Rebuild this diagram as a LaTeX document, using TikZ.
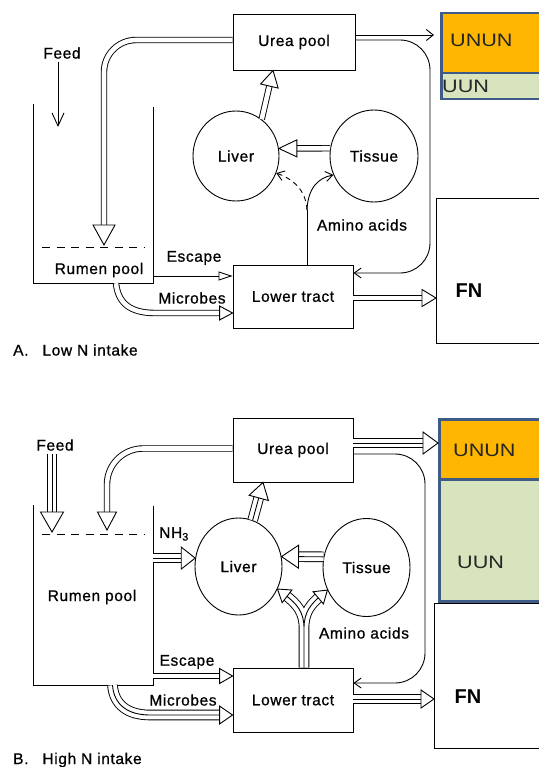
\documentclass[tikz,border=0pt]{standalone}
\usepackage{fontspec}
\setmainfont{Liberation Sans}[LetterSpace=4,FakeBold=0.8]
\newfontfamily\unfont{Liberation Sans}[FakeStretch=1.2]
\newfontfamily\fnfont{Liberation Sans}
\usetikzlibrary{arrows.meta,calc,shapes.geometric}
\definecolor{unor}{HTML}{FFB600}
\definecolor{ungr}{HTML}{D7E4BD}
\definecolor{unbd}{HTML}{3E5A85}
% open triangular head: #1 prev point, #2 tip, #3 length, #4 half width
\newcommand\ahd[4]{\draw[fill=white,line width=0.9pt,line join=miter] (#2) -- ($(#2)!#3!(#1)!#4!90:(#2)$) -- ($(#2)!#3!(#1)!#4!-90:(#2)$) -- cycle;}
% triple line
\newcommand\trip[2][]{\draw[trp,#1]#2;\draw[ln,#1]#2;}
\begin{document}
\begin{tikzpicture}[x=1pt,y=-1pt,
  lbl/.style={inner sep=1pt, font=\fontsize{15.5}{18}\selectfont},
  box/.style={draw, line width=0.9pt, inner sep=0pt, font=\fontsize{15.5}{18}\selectfont},
  org/.style={draw, ellipse, line width=0.9pt, inner sep=0pt, font=\fontsize{15.5}{18}\selectfont},
  ln/.style={line width=0.9pt},
  dbl/.style={double, double distance=4.6pt, line width=0.9pt},
  trp/.style={double, double distance=8.8pt, line width=0.9pt},
  barb/.style={-{Straight Barb[length=7pt,width=10pt]}},
  unbox/.style={draw=unbd, line width=2.5pt, minimum width=110pt, anchor=north west, inner sep=0pt},
  fnbox/.style={draw, line width=1.2pt, fill=white, minimum width=112pt, minimum height=145pt, anchor=north west, inner sep=0pt},
  untxt/.style={anchor=west, inner sep=0pt, font=\unfont\fontsize{18}{20}\selectfont, text=black!85},
  fntxt/.style={inner sep=0pt, font=\fnfont\bfseries\fontsize{20}{22}\selectfont},
]
\useasboundingbox (0,0) rectangle (538,767);

%%%%%%%%%%%%%%%% Panel A %%%%%%%%%%%%%%%%
\node[unbox, fill=unor, minimum height=60pt] (unA) at (440,12) {};
\node[unbox, fill=ungr, minimum height=26pt] (uunA) at (440,72) {};
\node[untxt] at (450,40) {UNUN};
\node[untxt] at (442,86) {UUN};
\node[fnbox] (fnA) at (436,198) {};
\node[fntxt] at (469,291) {FN};

\node[minimum width=119pt, minimum height=179pt, inner sep=0pt] (rumenA) at (93.5,193.5) {};
\draw[ln] (rumenA.north west) -- (rumenA.south west) -- (rumenA.south east) -- ([yshift=-3pt]rumenA.north east);
\draw[ln, dash pattern=on 8pt off 6.5pt] (42,247) -- (145,247);
\node[lbl] (rpA) at (99,270) {Rumen pool};
\node[lbl] (feedA) at (62,53) {Feed};
\coordinate (fdA) at (58,127);
\draw[ln, -{Straight Barb[length=13pt,width=12pt]}] ($(feedA.south)+(-4,2)$) -- (fdA);

\node[box, minimum width=122pt, minimum height=56pt] (ureaA) at (294,42) {Urea pool};
\node[org, minimum width=86pt, minimum height=90pt] (livA) at (236,156) {Liver};
\node[org, minimum width=88pt, minimum height=92pt] (tisA) at (374,156) {Tissue};
\node[box, minimum width=120pt, minimum height=63pt] (lowA) at (293,296.5) {Lower tract};

% urea -> rumen
\coordinate (inA) at (104,245);
\draw[dbl, rounded corners=32pt, shorten >=17pt] ($(ureaA.west)+(0,-2)$) -- (104,40) -- (inA);
\ahd{104,200}{inA}{20pt}{11pt}
% urea -> UNUN
\draw[ln, -{Straight Barb[length=7pt,width=11pt]}] ($(ureaA.east)+(0,-7)$) -- ($(ureaA.east -| unA.west)+(-6,-7)$);
% loop urea -> lower tract
\draw[ln, rounded corners=30pt, barb] ($(ureaA.east)+(0,-2)$) -- (430,40) -- (430,273) -- ($(lowA.east)+(0,-23.5)$);
% liver -> urea
\coordinate (tA1) at ($(ureaA.south)+(-21,0)$);
\draw[dbl, shorten >=13pt] (livA.55) -- (tA1);
\ahd{livA.55}{tA1}{16pt}{9pt}
% tissue -> liver
\draw[dbl, shorten >=15pt] (tisA.170) -- (livA.10);
\ahd{tisA.170}{livA.10}{18pt}{8.5pt}
% amino acids
\coordinate (aaA0) at ($(lowA.north)+(14,0)$);
\coordinate (aaAj) at (307,210);
\draw[ln] (aaA0) -- (aaAj);
\draw[ln, dash pattern=on 5pt off 4pt, barb] (aaAj) .. controls (306,190) and (293,179) .. (livA.-23);
\draw[ln, barb] (aaAj) .. controls (308,188) and (318,178) .. (tisA.205);
\node[lbl] at (362,225) {Amino acids};
% escape
\coordinate (eA1) at ($(lowA.west)+(0,-20.5)$);
\draw[ln, -{Triangle[open,length=14pt,width=9pt]}] (eA1 -| rumenA.east) -- (eA1);
\node[lbl] at (194,258) {Escape};
% microbes
\coordinate (mA0) at ($(rumenA.south)+(22.5,0)$);
\coordinate (mA1) at ($(lowA.west)+(0,16.5)$);
\draw[dbl, shorten >=10pt] (mA0) .. controls (118,303) and (130,313) .. (155,313) -- (mA1);
\ahd{155,313}{mA1}{13pt}{7pt}
\node[lbl] at (192,298) {Microbes};
% lower tract -> FN
\coordinate (fnA1) at ($(lowA.east)+(0,1.5)$);
\coordinate (fnA2) at (fnA1 -| fnA.west);
\draw[dbl, shorten >=11pt] (fnA1) -- (fnA2);
\ahd{fnA1}{fnA2}{14pt}{8.5pt}
\node[lbl, anchor=west] at (12,350) {A.\hspace{14pt}Low N intake};

%%%%%%%%%%%%%%%% Panel B %%%%%%%%%%%%%%%%
\node[unbox, fill=unor, minimum height=60pt] (unB) at (438,418) {};
\node[unbox, fill=ungr, minimum height=122pt] (uunB) at (438,478) {};
\node[untxt] at (453,450) {UNUN};
\node[untxt] at (457,562) {UUN};
\node[fnbox] (fnB) at (434,603) {};
\node[fntxt] at (468,697) {FN};

\node[minimum width=119pt, minimum height=180pt, inner sep=0pt] (rumenB) at (93.5,595) {};
\draw[ln] (rumenB.north west) -- (rumenB.south west) -- (rumenB.south east) -- ([yshift=-1pt]rumenB.north east);
\draw[ln, dash pattern=on 8pt off 6.5pt] (42,534) -- (145,534);
\node[lbl] (rpB) at (92,597) {Rumen pool};
\node[lbl] (feedB) at (55,445) {Feed};
\node[lbl] (nh3) at (174,534) {NH\textsubscript{3}};

\node[box, minimum width=120pt, minimum height=64pt] (ureaB) at (293,450) {Urea pool};
\node[org, minimum width=87pt, minimum height=97pt] (livB) at (238.5,566.5) {Liver};
\node[org, minimum width=87pt, minimum height=98pt] (tisB) at (366.5,567.5) {Tissue};
\node[box, minimum width=120pt, minimum height=64pt] (lowB) at (293,700) {Lower tract};

% feed
\coordinate (fdB) at (52,532);
\trip[shorten >=17pt]{($(feedB.south)+(-3,2)$) -- (fdB)}
\ahd{52,480}{fdB}{20pt}{11.5pt}
% urea -> rumen
\coordinate (inB) at (107,530);
\draw[dbl, rounded corners=36pt, shorten >=15pt] ($(ureaB.west)+(0,-1.5)$) -- (107,448.5) -- (inB);
\ahd{107,500}{inB}{18pt}{9.5pt}
% NH3
\coordinate (nB0) at (livB.169 -| rumenB.east);
\trip[shorten >=11pt]{(nB0) -- (livB.169)}
\ahd{nB0}{livB.169}{14pt}{11pt}
% liver -> urea
\coordinate (tB1) at ($(ureaB.south)+(-30,0)$);
\trip[shorten >=13pt]{(livB.73) -- (tB1)}
\ahd{livB.73}{tB1}{16pt}{10pt}
% tissue -> liver
\trip[shorten >=14pt]{(tisB.166) -- (livB.13)}
\ahd{tisB.166}{livB.13}{17pt}{11.5pt}
% amino acids
\coordinate (aaB0) at ($(lowB.north)+(11,0)$);
\coordinate (aaBj) at (304,628);
\coordinate (aaBl) at ($(livB.-30)!9pt!(297,604)$);
\coordinate (aaBr) at ($(tisB.210)!9pt!(311,604)$);
\draw[trp] (aaB0) -- (aaBj) .. controls (304,612) and (297,604) .. (aaBl) (aaB0) -- (aaBj) .. controls (304,612) and (311,604) .. (aaBr);
\draw[ln] (aaB0) -- (aaBj) .. controls (304,612) and (297,604) .. (aaBl) (aaB0) -- (aaBj) .. controls (304,612) and (311,604) .. (aaBr);
\ahd{297,604}{livB.-30}{12pt}{8pt}
\ahd{311,604}{tisB.210}{12pt}{8pt}
\node[lbl] at (364,633) {Amino acids};
% loop urea -> lower tract
\draw[ln, rounded corners=30pt, barb] ($(ureaB.east)+(0,4)$) -- (425,454) -- (425,683) -- ($(lowB.east)+(0,-17)$);
% urea -> UNUN
\coordinate (uB1) at ($(ureaB.east)+(0,-7)$);
\coordinate (uB2) at (uB1 -| unB.west);
\trip[shorten >=12pt]{(uB1) -- (uB2)}
\ahd{uB1}{uB2}{15pt}{11pt}
% lower tract -> FN
\coordinate (fB1) at ($(lowB.east)+(0,-1)$);
\coordinate (fB2) at (fB1 -| fnB.west);
\trip[shorten >=10pt]{(fB1) -- (fB2)}
\ahd{fB1}{fB2}{13pt}{9pt}
% escape
\coordinate (eB1) at ($(lowB.west)+(0,-24)$);
\coordinate (eB0) at (eB1 -| rumenB.east);
\draw[dbl, shorten >=10pt] (eB0) -- (eB1);
\ahd{eB0}{eB1}{13pt}{7.5pt}
\node[lbl] at (187,662) {Escape};
% microbes
\coordinate (mB0) at ($(rumenB.south)+(19,0)$);
\coordinate (mB1) at ($(lowB.west)+(0,15)$);
\trip[shorten >=10pt]{(mB0) .. controls (114,705) and (128,715) .. (150,715) -- (mB1)}
\ahd{150,715}{mB1}{13pt}{9pt}
\node[lbl] at (183,700) {Microbes};
\node[lbl, anchor=west] at (12,760) {B.\hspace{14pt}High N intake};
\end{tikzpicture}
\end{document}
